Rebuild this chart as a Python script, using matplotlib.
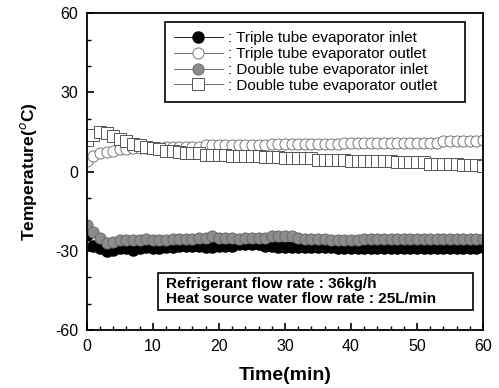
import numpy as np
import matplotlib.pyplot as plt
from matplotlib.ticker import MultipleLocator
from matplotlib.patches import Rectangle

plt.rcParams['font.family'] = ['Liberation Sans', 'DejaVu Sans']
plt.rcParams['axes.unicode_minus'] = False

time = list(range(0, 61))

triple_in = [-24, -28, -29, -30, -29.5, -29, -29, -29.5, -29, -28.5,
             -29, -29, -28.5, -28.5, -28, -28, -28, -28, -28.5, -28.5,
             -28, -28, -28, -27.5, -27.5, -27.5, -27.5, -28, -28, -28.5,
             -28.5, -28.5, -28.5, -28.5, -28.5, -28.5, -28.5, -28.5, -29, -29,
             -29, -29, -29, -29, -29, -29, -29, -29, -29, -29,
             -29, -29, -29, -29, -29, -29, -29, -29, -29, -29,
             -28.5]

triple_out = [4, 6, 7, 7.5, 8, 8.5, 8.5, 9, 9, 9,
              9, 9, 9.5, 9.5, 9.5, 9.5, 9.5, 9.5, 10, 10,
              10, 10, 10, 10, 10, 10, 10, 10, 10.5, 10.5,
              10.5, 10.5, 10.5, 10.5, 10.5, 10.5, 10.5, 10.5, 10.5, 11,
              11, 11, 11, 11, 11, 11, 11, 11, 11, 11,
              11, 11, 11, 11, 11.5, 11.5, 11.5, 11.5, 11.5, 11.5,
              12]

double_in = [-20, -23, -25, -27, -26.5, -26, -26, -26, -26, -25.5,
             -26, -26, -26, -25.5, -25.5, -25.5, -25.5, -25, -25, -24.5,
             -25, -25, -25, -25.5, -25, -25, -25, -25, -24.5, -24.5,
             -24.5, -24.5, -25, -25.5, -25.5, -25.5, -25.5, -26, -26, -26,
             -26, -26, -25.5, -25.5, -25.5, -25.5, -25.5, -25.5, -25.5, -25.5,
             -25.5, -25.5, -25.5, -25.5, -25.5, -25.5, -25.5, -25.5, -25.5, -25.5,
             -25.5]

double_out = [12, 14, 15, 14.5, 13.5, 12.5, 11.5, 10.5, 10, 9.5,
              9, 8.5, 8, 8, 7.5, 7, 7, 7, 6.5, 6.5,
              6.5, 6.5, 6, 6, 6, 6, 6, 5.5, 5.5, 5.5,
              5, 5, 5, 5, 5, 4.5, 4.5, 4.5, 4.5, 4.5,
              4, 4, 4, 4, 4, 4, 4, 3.5, 3.5, 3.5,
              3.5, 3.5, 3, 3, 3, 3, 3, 2.5, 2.5, 2.5,
              2]

labels = [": Triple tube evaporator inlet",
          ": Triple tube evaporator outlet",
          ": Double tube evaporator inlet",
          ": Double tube evaporator outlet"]

fig = plt.figure(figsize=(4.99, 3.88), dpi=100)
ax = fig.add_axes([0.174, 0.149, 0.794, 0.817])

ms = 8
ax.plot(time, triple_in, marker='o', color='black', lw=0.6, ms=ms,
        mfc='black', mec='black', label=labels[0])
ax.plot(time, triple_out, marker='o', color='#555555', lw=0.6, ms=ms,
        mfc='white', mec='#777777', mew=0.7, label=labels[1])
ax.plot(time, double_in, marker='o', color='#555555', lw=0.6, ms=ms,
        mfc='#8c8c8c', mec='#6a6a6a', mew=0.7, label=labels[2])
ax.plot(time, double_out, marker='s', color='#555555', lw=0.6, ms=ms,
        mfc='white', mec='#555555', mew=0.7, label=labels[3])

ax.set_xlim(0, 60)
ax.set_ylim(-60, 60)
ax.xaxis.set_major_locator(MultipleLocator(10))
ax.xaxis.set_minor_locator(MultipleLocator(2))
ax.yaxis.set_major_locator(MultipleLocator(30))
ax.yaxis.set_minor_locator(MultipleLocator(10))
ax.tick_params(which='both', direction='in', top=False, right=False,
               labelsize=11.5)
ax.tick_params(which='major', length=5, width=1.2, pad=6)
ax.tick_params(which='minor', length=3, width=1)
for s in ax.spines.values():
    s.set_linewidth(1.3)

ax.set_xlabel("Time(min)", fontsize=14, fontweight='bold', labelpad=10)
ax.set_ylabel("Temperature($^{o}$C)", fontsize=12.5, fontweight='bold',
              labelpad=12)

leg = ax.legend(loc='upper left', bbox_to_anchor=(0.197, 0.703, 0.758, 0.269),
                mode='expand', fontsize=11, fancybox=False, edgecolor='black',
                framealpha=1, handlelength=3.2, handletextpad=0.3,
                borderpad=0.6, labelspacing=0.12, borderaxespad=0)
leg.get_frame().set_linewidth(1.2)

ax.add_patch(Rectangle((0.18, 0.063), 0.794, 0.117, transform=ax.transAxes,
                       fc='white', ec='black', lw=1.2, zorder=5))
ax.text(0.2, 0.1215,
        "Refrigerant flow rate : 36kg/h\nHeat source water flow rate : 25L/min",
        transform=ax.transAxes, fontsize=11, fontweight='bold',
        va='center', ha='left', linespacing=1.1, zorder=6)

fig.savefig("out.png", dpi=100)
